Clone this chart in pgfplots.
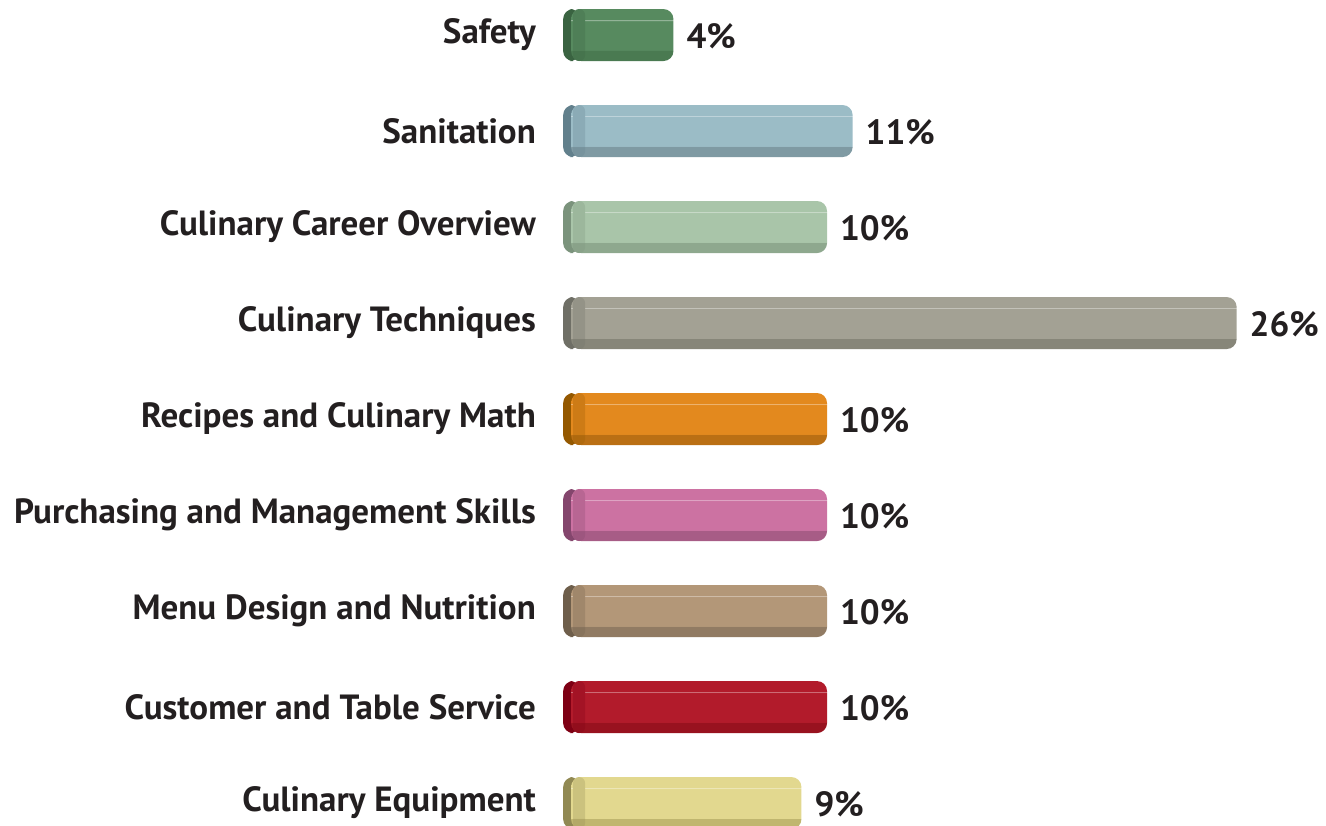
\documentclass[border=0pt]{standalone}
\usepackage{pgfplots}
\pgfplotsset{compat=1.18}
\usepackage{fontspec}
\setmainfont{PT Sans}
\definecolor{txt}{HTML}{231F20}
% main, bottom, cap
\definecolor{mA}{HTML}{578A5F}\definecolor{bA}{HTML}{4A7A51}\definecolor{cA}{HTML}{3A6341}
\definecolor{mB}{HTML}{9BBCC6}\definecolor{bB}{HTML}{7F9AA3}\definecolor{cB}{HTML}{62808C}
\definecolor{mC}{HTML}{A9C5A9}\definecolor{bC}{HTML}{8EA88E}\definecolor{cC}{HTML}{7B937C}
\definecolor{mD}{HTML}{A3A194}\definecolor{bD}{HTML}{878679}\definecolor{cD}{HTML}{6F6F66}
\definecolor{mE}{HTML}{E3891E}\definecolor{bE}{HTML}{BA6F14}\definecolor{cE}{HTML}{945800}
\definecolor{mF}{HTML}{CC72A2}\definecolor{bF}{HTML}{A75C86}\definecolor{cF}{HTML}{84466D}
\definecolor{mG}{HTML}{B39778}\definecolor{bG}{HTML}{917B63}\definecolor{cG}{HTML}{6E5E4B}
\definecolor{mH}{HTML}{B21B2B}\definecolor{bH}{HTML}{98121F}\definecolor{cH}{HTML}{7E0014}
\definecolor{mI}{HTML}{E2D88F}\definecolor{bI}{HTML}{C0B66F}\definecolor{cI}{HTML}{918953}
\newcommand\defsh[3]{\pgfdeclareverticalshading{#1}{100bp}{color(0bp)=(#3); color(35bp)=(#3); color(35.6bp)=(#2); color(63.6bp)=(#2); color(64bp)=(#2!65!white); color(64.7bp)=(#2!65!white); color(65.1bp)=(#2); color(100bp)=(#2)}}
\newcommand\defbv[4]{\pgfdeclareverticalshading{#1}{100bp}{color(0bp)=(#3!72!#4); color(35bp)=(#3!72!#4); color(35.6bp)=(#2!72!#4); color(100bp)=(#2!72!#4)}}
\defsh{shA}{mA}{bA}\defbv{bvA}{mA}{bA}{cA}
\defsh{shB}{mB}{bB}\defbv{bvB}{mB}{bB}{cB}
\defsh{shC}{mC}{bC}\defbv{bvC}{mC}{bC}{cC}
\defsh{shD}{mD}{bD}\defbv{bvD}{mD}{bD}{cD}
\defsh{shE}{mE}{bE}\defbv{bvE}{mE}{bE}{cE}
\defsh{shF}{mF}{bF}\defbv{bvF}{mF}{bF}{cF}
\defsh{shG}{mG}{bG}\defbv{bvG}{mG}{bG}{cG}
\defsh{shH}{mH}{bH}\defbv{bvH}{mH}{bH}{cH}
\defsh{shI}{mI}{bI}\defbv{bvI}{mI}{bI}{cI}
\pgfplotsset{
  capbar/.style={draw=none, fill=#1, rounded corners=5pt, xshift=4.5pt},
  bevel/.style={draw=none, shade, shading=#1, rounded corners=3pt, xshift=1pt},
  mainbar/.style={draw=none, shade, shading=#1, rounded corners=5pt,
    nodes near coords={\pgfmathprintnumber{\pgfplotspointmeta}\%},
    nodes near coords style={font=\bfseries\fontsize{17.5}{19}\selectfont, text=txt, anchor=west, xshift=3pt, yshift=-0.5pt}},
}
\begin{document}
\begin{tikzpicture}
\begin{axis}[name=a,
  x=12.8pt, y=48pt, y dir=reverse,
  xmin=-0.4, xmax=29.49, ymin=-0.365, ymax=8.229,
  axis line style={draw=none}, major tick style={draw=none},
  /pgf/number format/assume math mode=true,
  xtick=\empty, ytick={0,1,2,3,4,5,6,7,8},
  yticklabels={Safety, Sanitation, Culinary Career Overview, Culinary Techniques, Recipes and Culinary Math, Purchasing and Management Skills, Menu Design and Nutrition, Customer and Table Service, Culinary Equipment},
  yticklabel style={font=\bfseries\fontsize{17.5}{19}\selectfont, text=txt, inner sep=0pt, xshift=-8pt},
  xbar, bar width=26pt, bar shift=0pt, point meta=x,
]
\addplot[capbar=cA] coordinates {(-0.66,0)};
\addplot[mainbar=shA] coordinates {(4,0)};
\addplot[bevel=bvA] coordinates {(0.47,0)};
\addplot[capbar=cB] coordinates {(-0.66,1)};
\addplot[mainbar=shB] coordinates {(11,1)};
\addplot[bevel=bvB] coordinates {(0.47,1)};
\addplot[capbar=cC] coordinates {(-0.66,2)};
\addplot[mainbar=shC] coordinates {(10,2)};
\addplot[bevel=bvC] coordinates {(0.47,2)};
\addplot[capbar=cD] coordinates {(-0.66,3)};
\addplot[mainbar=shD] coordinates {(26,3)};
\addplot[bevel=bvD] coordinates {(0.47,3)};
\addplot[capbar=cE] coordinates {(-0.66,4)};
\addplot[mainbar=shE] coordinates {(10,4)};
\addplot[bevel=bvE] coordinates {(0.47,4)};
\addplot[capbar=cF] coordinates {(-0.66,5)};
\addplot[mainbar=shF] coordinates {(10,5)};
\addplot[bevel=bvF] coordinates {(0.47,5)};
\addplot[capbar=cG] coordinates {(-0.66,6)};
\addplot[mainbar=shG] coordinates {(10,6)};
\addplot[bevel=bvG] coordinates {(0.47,6)};
\addplot[capbar=cH] coordinates {(-0.66,7)};
\addplot[mainbar=shH] coordinates {(10,7)};
\addplot[bevel=bvH] coordinates {(0.47,7)};
\addplot[capbar=cI] coordinates {(-0.66,8)};
\addplot[mainbar=shI] coordinates {(9,8)};
\addplot[bevel=bvI] coordinates {(0.47,8)};
\end{axis}
\pgfresetboundingbox
\useasboundingbox ([xshift=-280.4pt]a.south west) rectangle (a.north east);
\end{tikzpicture}
\end{document}
